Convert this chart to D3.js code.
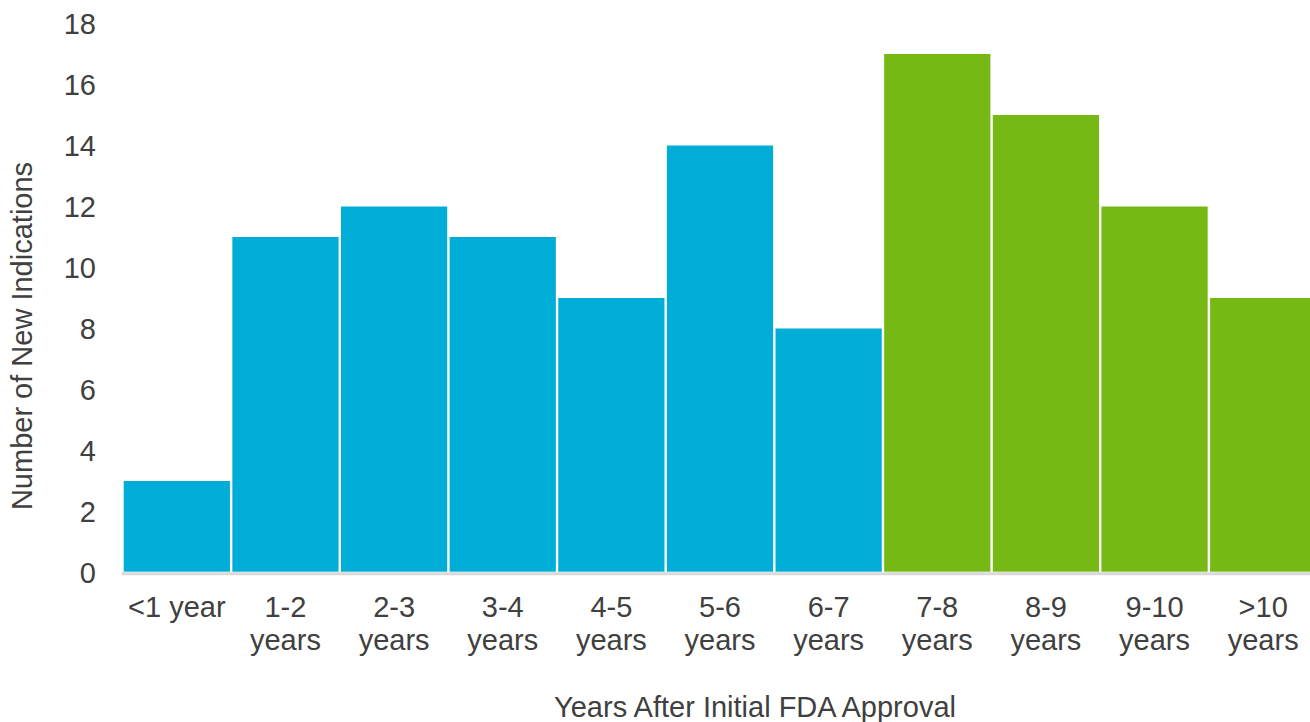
<!DOCTYPE html>
<html>
<head>
<meta charset="utf-8">
<script src="https://cdn.jsdelivr.net/npm/d3@7"></script>
<style>
  html, body { margin: 0; padding: 0; background: #ffffff; overflow: hidden; }
  svg { display: block; font-family: "Liberation Sans", Arial, sans-serif; }
</style>
</head>
<body>
<svg id="chart" width="1310" height="722"></svg>
<script>
// Categories: time since initial approval, two text lines each
const categories = ["<1 year", "1-2 years", "2-3 years", "3-4 years", "4-5 years", "5-6 years",
                    "6-7 years", "7-8 years", "8-9 years", "9-10 years", ">10 years"];
const labelLines = [["<1 year"], ["1-2", "years"], ["2-3", "years"], ["3-4", "years"], ["4-5", "years"],
                    ["5-6", "years"], ["6-7", "years"], ["7-8", "years"], ["8-9", "years"],
                    ["9-10", "years"], [">10", "years"]];
const values = [3, 11, 12, 11, 9, 14, 8, 17, 15, 12, 9];
// First seven periods in blue, later ones in green
const groups = ["early", "early", "early", "early", "early", "early", "early",
                "late", "late", "late", "late"];
const yTicks = [0, 2, 4, 6, 8, 10, 12, 14, 16, 18];

const colors = { early: "#00ADD7", late: "#77B914" };
const textColor = "#404040";
const fontSize = 29;

const svg = d3.select("#chart");

const x = d3.scaleBand()
  .domain(categories)
  .range([122.5, 1317.5])
  .paddingInner(0)
  .paddingOuter(0);

const y = d3.scaleLinear()
  .domain([0, 18])
  .range([572.5, 23.5]);

// Bars
const gap = 1.2;
svg.append("g")
  .selectAll("rect")
  .data(values)
  .join("rect")
  .attr("x", (d, i) => x(categories[i]) + gap)
  .attr("width", x.bandwidth() - 2 * gap)
  .attr("y", d => y(d))
  .attr("height", d => y(0) - y(d) - 0.8)
  .attr("fill", (d, i) => colors[groups[i]]);

// Baseline
svg.append("line")
  .attr("x1", 121.5)
  .attr("x2", 1310)
  .attr("y1", y(0) + 1.2)
  .attr("y2", y(0) + 1.2)
  .attr("stroke", "#d9d9d9")
  .attr("stroke-width", 3);

// Y axis: labels only, no domain line or tick marks
const yAxis = d3.axisLeft(y)
  .tickValues(yTicks)
  .tickSize(0)
  .tickPadding(0);

const yg = svg.append("g")
  .attr("transform", "translate(96,0)")
  .call(yAxis);
yg.select(".domain").remove();
yg.selectAll("text")
  .attr("fill", textColor)
  .attr("font-size", fontSize)
  .attr("font-family", "Liberation Sans, Arial, sans-serif")
  .attr("dy", "0.35em");

// X axis: two-line category labels
const xAxis = d3.axisBottom(x).tickSize(0).tickFormat("");
const xg = svg.append("g")
  .attr("transform", `translate(0,${y(0)})`)
  .call(xAxis);
xg.select(".domain").remove();

const labels = svg.append("g")
  .attr("fill", textColor)
  .attr("font-size", fontSize)
  .attr("text-anchor", "middle");

labelLines.forEach((lines, i) => {
  const cx = x(categories[i]) + x.bandwidth() / 2;
  const t = labels.append("text").attr("x", cx).attr("y", 617);
  lines.forEach((line, j) => {
    t.append("tspan")
      .attr("x", cx)
      .attr("y", 617 + j * 33)
      .text(line);
  });
});

// Axis titles
svg.append("text")
  .attr("x", 755)
  .attr("y", 717)
  .attr("text-anchor", "middle")
  .attr("fill", textColor)
  .attr("font-size", fontSize)
  .text("Years After Initial FDA Approval");

svg.append("text")
  .attr("transform", "translate(32,336) rotate(-90)")
  .attr("text-anchor", "middle")
  .attr("fill", textColor)
  .attr("font-size", fontSize)
  .text("Number of New Indications");
</script>
</body>
</html>
